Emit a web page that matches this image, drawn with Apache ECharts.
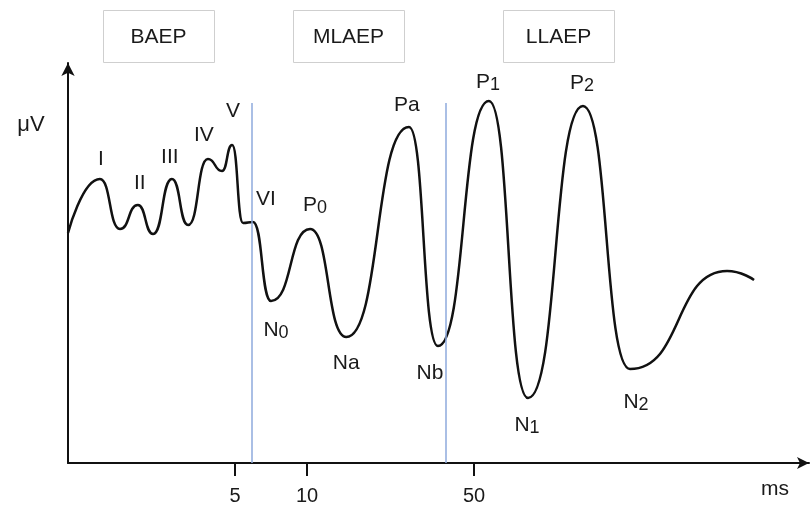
<!DOCTYPE html>
<html>
<head>
<meta charset="utf-8">
<script src="https://cdn.jsdelivr.net/npm/echarts@6/dist/echarts.min.js"></script>
<style>
  html, body { margin: 0; padding: 0; background: #fff; }
  #main { width: 811px; height: 509px; }
</style>
</head>
<body>
<div id="main"></div>
<script>
// latency (ms, log scale) and amplitude (arbitrary µV units) of the waveform extremes
var timeMs    = [1.0, 1.36, 1.65, 1.96, 2.27, 2.72, 3.18, 3.85, 4.41, 4.86, 5.40, 5.94, 7.07, 10.3, 14.6, 26.7, 35.3, 57.7, 84.1, 142.8, 224.6, 572, 742];
var amplitude = [230, 284, 234, 258, 229, 284, 238, 304, 292, 318, 240, 241, 162, 234, 126, 336, 117, 362, 65, 357, 94, 192, 183];

// named components and which point of the curve they belong to
var peakNames = ['I', 'II', 'III', 'IV', 'V', 'VI', 'P{s|0}', 'N{s|0}', 'N{a|a}', 'P{a|a}', 'N{a|b}', 'P{s|1}', 'N{s|1}', 'P{s|2}', 'N{s|2}'];
var peakIndex = [1, 3, 5, 7, 9, 11, 13, 12, 14, 15, 16, 17, 18, 19, 20];

// section boundaries (ms)
var boundaries = [5.9, 38.2];
var boundaryTop = 360;

var sections = ['BAEP', 'MLAEP', 'LLAEP'];
var tickValues = [5, 10, 50];

var font = '"Liberation Sans", Arial, sans-serif';
var labelOffsets = [
    [1, -20], [2, -22], [-2, -22], [-4, -24], [1, -34], [13, -23], [5, -24],
    [5, 29], [0, 26], [-2, -22], [-8, 27], [-1, -19], [-1, 27], [-1, -23], [6, 33]
];

var curve = timeMs.map(function (t, i) { return [t, amplitude[i]]; });

var markData = peakNames.map(function (name, i) {
    return {
        name: name,
        coord: curve[peakIndex[i]],
        label: { formatter: name, offset: labelOffsets[i] }
    };
});

var boxX = [103, 293, 503];
var graphics = [];
sections.forEach(function (s, i) {
    graphics.push({
        type: 'rect',
        shape: { x: boxX[i] + 0.5, y: 10.5, width: 111, height: 52 },
        style: { fill: '#fff', stroke: '#cfcfcf', lineWidth: 1 }
    });
    graphics.push({
        type: 'text',
        x: boxX[i] + 55.5, y: 37,
        style: { text: s, font: '21px ' + font, fill: '#1a1a1a', align: 'center', verticalAlign: 'middle' }
    });
});
graphics.push({
    type: 'text', x: 31, y: 125,
    style: { text: 'μV', font: '22px ' + font, fill: '#1a1a1a', align: 'center', verticalAlign: 'middle' }
});
graphics.push({
    type: 'text', x: 775, y: 489,
    style: { text: 'ms', font: '21px ' + font, fill: '#1a1a1a', align: 'center', verticalAlign: 'middle' }
});

var chart = echarts.init(document.getElementById('main'));
chart.setOption({
    backgroundColor: '#fff',
    animation: false,
    grid: { left: 68, right: 2, top: 63, bottom: 46, containLabel: false },
    xAxis: {
        type: 'log',
        logBase: 10,
        min: 1,
        max: 1260,
        splitLine: { show: false },
        axisLine: {
            lineStyle: { color: '#111', width: 2 },
            symbol: ['none', 'arrow'],
            symbolSize: [9, 12]
        },
        axisTick: {
            show: true,
            customValues: tickValues,
            length: 13,
            lineStyle: { color: '#111', width: 2 }
        },
        axisLabel: {
            customValues: tickValues,
            margin: 23,
            fontSize: 20,
            fontFamily: font,
            color: '#1a1a1a'
        }
    },
    yAxis: {
        type: 'value',
        min: 0,
        max: 400,
        splitLine: { show: false },
        axisTick: { show: false },
        axisLabel: { show: false },
        axisLine: {
            show: true,
            lineStyle: { color: '#111', width: 2 },
            symbol: ['none', 'arrow'],
            symbolSize: [10, 13]
        }
    },
    series: [{
        type: 'line',
        data: curve,
        smooth: 0.55,
        smoothMonotone: 'x',
        showSymbol: false,
        lineStyle: { color: '#111', width: 2.5 },
        markLine: {
            silent: true,
            symbol: 'none',
            label: { show: false },
            lineStyle: { color: '#8eaadc', width: 1.5, type: 'solid' },
            data: boundaries.map(function (b) {
                return [{ coord: [b, 0] }, { coord: [b, boundaryTop] }];
            })
        },
        markPoint: {
            symbol: 'circle',
            symbolSize: 0,
            itemStyle: { color: 'transparent' },
            label: {
                show: true,
                position: 'inside',
                fontSize: 21,
                fontFamily: font,
                color: '#1a1a1a',
                rich: {
                    s: { fontSize: 18, fontFamily: font, color: '#1a1a1a', padding: [7, 0, 0, 0] },
                    a: { fontSize: 21, fontFamily: font, color: '#1a1a1a' }
                }
            },
            data: markData
        }
    }],
    graphic: graphics
});
</script>
</body>
</html>
